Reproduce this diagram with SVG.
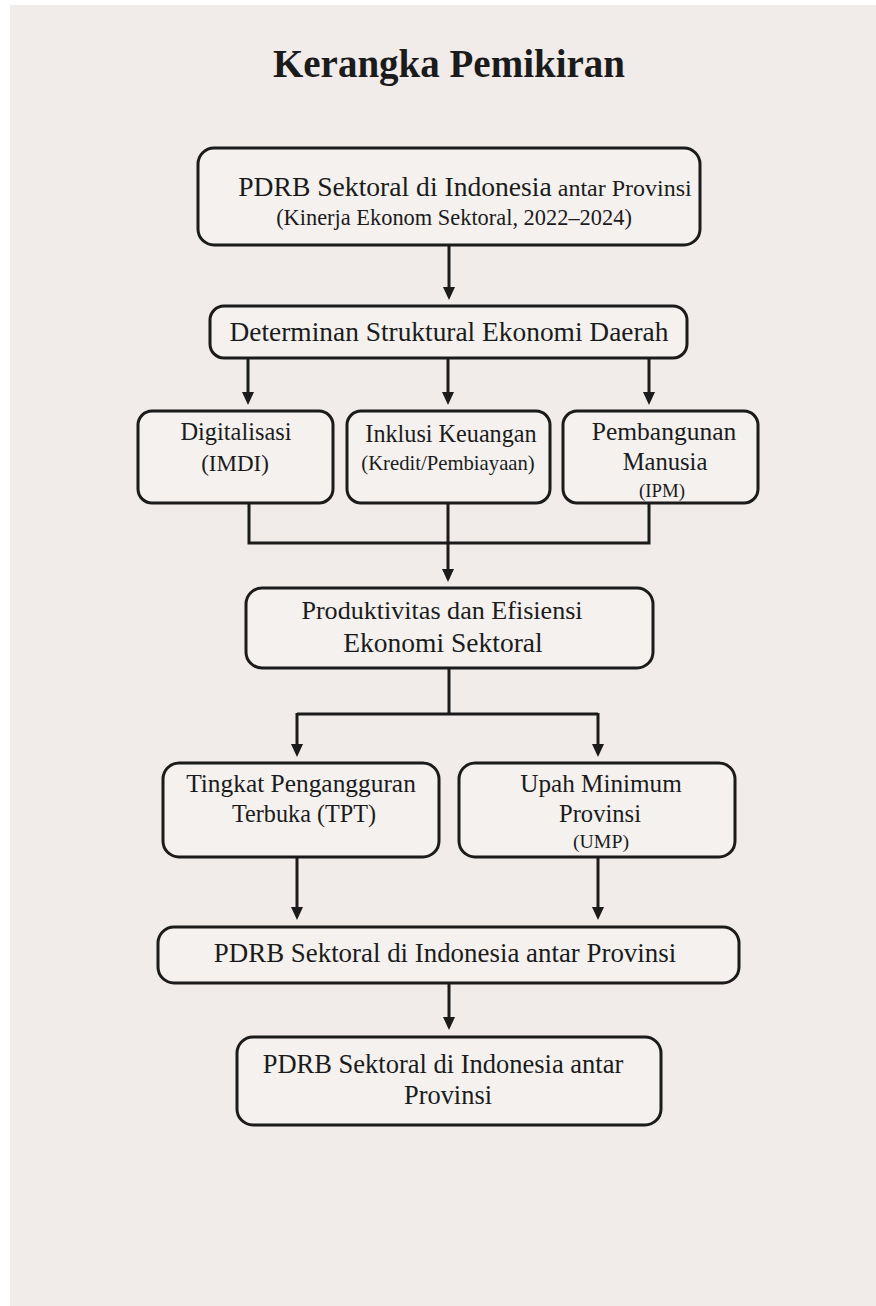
<svg xmlns="http://www.w3.org/2000/svg" width="876" height="1306" viewBox="0 0 876 1306">
<style>
.box{fill:#f4f1ef;stroke:#1b1b1b;stroke-width:3}
.t{font-family:"Liberation Serif","Times New Roman",serif;fill:#1b1b1b;text-anchor:middle}
.c{fill:none;stroke:#1b1b1b;stroke-width:3}
</style>
<defs>
<marker id="ah" viewBox="0 0 13 12" refX="1" refY="6" markerWidth="13" markerHeight="12" markerUnits="userSpaceOnUse" orient="auto">
<path d="M0,0 L13,6 L0,12 z" fill="#1b1b1b"/>
</marker>
</defs>
<rect x="0" y="0" width="876" height="1306" fill="#ffffff"/>
<rect x="10" y="5" width="866" height="1301" fill="#f1ecea"/>
<text class="t" x="449" y="77" font-size="39" font-weight="bold">Kerangka Pemikiran</text>

<g id="connectors">
<path class="c" d="M449,246 V288" marker-end="url(#ah)"/>
<path class="c" d="M248,358 V393" marker-end="url(#ah)"/>
<path class="c" d="M448,358 V393" marker-end="url(#ah)"/>
<path class="c" d="M649,358 V393" marker-end="url(#ah)"/>
<path class="c" d="M249,503 V543 H649 V503"/>
<path class="c" d="M448,503 V570" marker-end="url(#ah)"/>
<path class="c" d="M449,668 V714"/>
<path class="c" d="M297,714 H598"/>
<path class="c" d="M297,713 V745" marker-end="url(#ah)"/>
<path class="c" d="M598,713 V745" marker-end="url(#ah)"/>
<path class="c" d="M297,857 V908" marker-end="url(#ah)"/>
<path class="c" d="M598,857 V908" marker-end="url(#ah)"/>
<path class="c" d="M449,983 V1018" marker-end="url(#ah)"/>
</g>

<g id="n1">
<rect class="box" x="198" y="148" width="502" height="97" rx="16"/>
<text class="t" x="465" y="196"><tspan font-size="27.6">PDRB Sektoral di Indonesia</tspan><tspan font-size="24"> antar Provinsi</tspan></text>
<text class="t" x="454" y="225" font-size="22.4">(Kinerja Ekonom Sektoral, 2022–2024)</text>
</g>

<g id="n2">
<rect class="box" x="210" y="306" width="477" height="52" rx="14"/>
<text class="t" x="449" y="341" font-size="27.4">Determinan Struktural Ekonomi Daerah</text>
</g>

<g id="n3">
<rect class="box" x="138" y="411" width="195" height="92" rx="14"/>
<text class="t" x="236" y="440" font-size="24.4">Digitalisasi</text>
<text class="t" x="235" y="471" font-size="23">(IMDI)</text>
</g>

<g id="n4">
<rect class="box" x="347" y="411" width="203" height="92" rx="14"/>
<text class="t" x="451" y="442" font-size="24.2">Inklusi Keuangan</text>
<text class="t" x="448" y="470" font-size="20.7">(Kredit/Pembiayaan)</text>
</g>

<g id="n5">
<rect class="box" x="563" y="411" width="195" height="92" rx="14"/>
<text class="t" x="664" y="440" font-size="25.5">Pembangunan</text>
<text class="t" x="665" y="470" font-size="24.6">Manusia</text>
<text class="t" x="662" y="497" font-size="18.8">(IPM)</text>
</g>

<g id="n6">
<rect class="box" x="246" y="588" width="407" height="80" rx="16"/>
<text class="t" x="442" y="619" font-size="26.1">Produktivitas dan Efisiensi</text>
<text class="t" x="443" y="652" font-size="27.5">Ekonomi Sektoral</text>
</g>

<g id="n7">
<rect class="box" x="163" y="763" width="276" height="94" rx="16"/>
<text class="t" x="301" y="792" font-size="25.4">Tingkat Pengangguran</text>
<text class="t" x="304" y="822" font-size="24.2">Terbuka (TPT)</text>
</g>

<g id="n8">
<rect class="box" x="459" y="763" width="276" height="94" rx="16"/>
<text class="t" x="601" y="792" font-size="25.2">Upah Minimum</text>
<text class="t" x="600" y="822" font-size="24.6">Provinsi</text>
<text class="t" x="601" y="848" font-size="19.8">(UMP)</text>
</g>

<g id="n9">
<rect class="box" x="158" y="927" width="581" height="56" rx="16"/>
<text class="t" x="445" y="962" font-size="26.9">PDRB Sektoral di Indonesia antar Provinsi</text>
</g>

<g id="n10">
<rect class="box" x="237" y="1037" width="424" height="88" rx="16"/>
<text class="t" x="443" y="1073" font-size="26.5">PDRB Sektoral di Indonesia antar</text>
<text class="t" x="448" y="1104" font-size="26.4">Provinsi</text>
</g>
</svg>
